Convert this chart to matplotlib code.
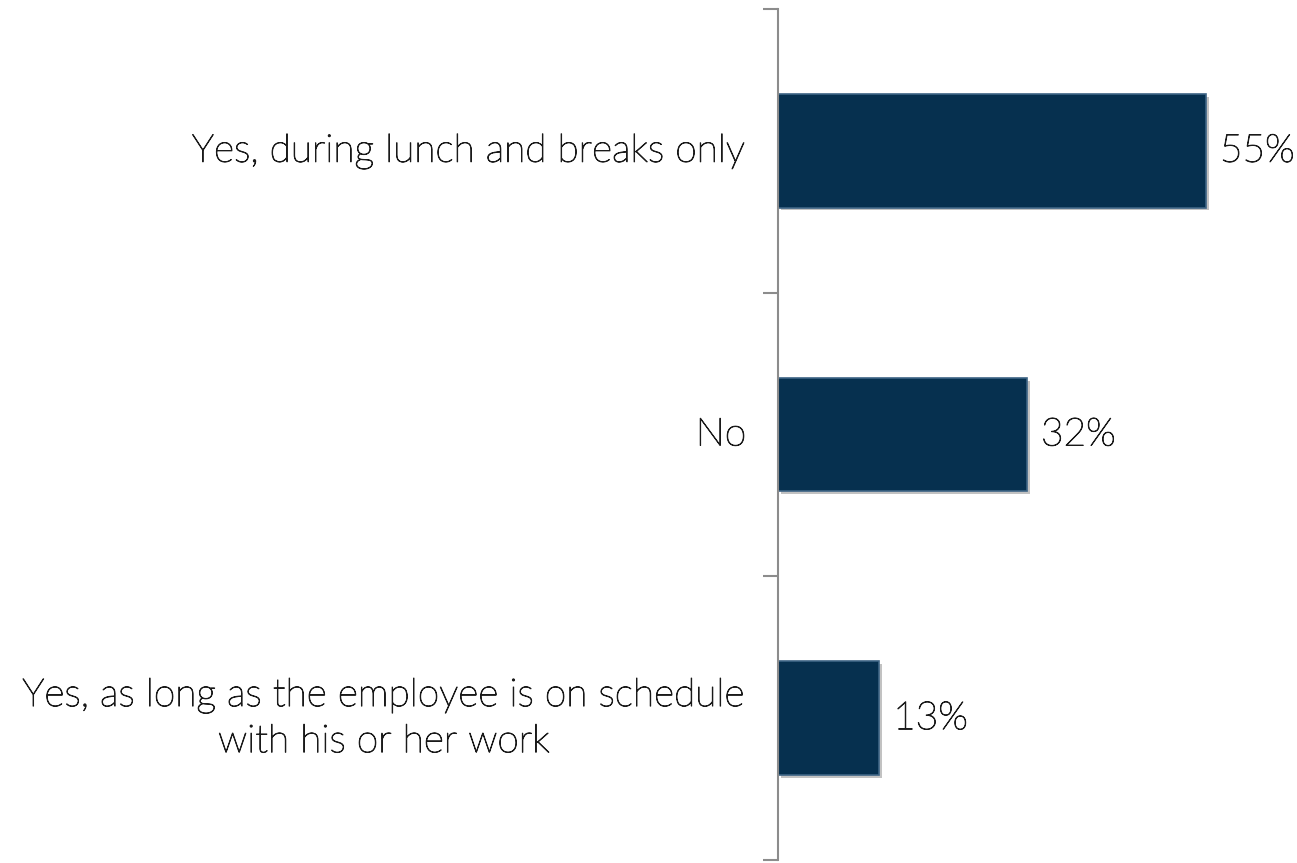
import matplotlib.pyplot as plt
import matplotlib.patheffects as pe

# Survey responses, top to bottom
categories = [
    "Yes, during lunch and breaks only",
    "No",
    "Yes, as long as the employee is on schedule\nwith his or her work",
]
values = [55, 32, 13]

plt.rcParams['font.family'] = ['Lato', 'DejaVu Sans']
text_col = '#1a1a1a'
# light face thickened a little with a thin outline
thicken = [pe.withStroke(linewidth=0.7, foreground=text_col)]

fig = plt.figure(figsize=(12.97, 8.63), dpi=100)
ax = fig.add_axes([778 / 1297, 3 / 863, 519 / 1297, 851 / 863])

pos = list(range(len(categories)))
bars = ax.barh(pos, values, height=0.4, color='#06304f',
               edgecolor='#3d6485', linewidth=1.2)
for b in bars:
    b.set_path_effects([pe.SimplePatchShadow(offset=(2, -2), shadow_rgbFace='#9a9a9a', alpha=0.6),
                        pe.Normal()])

ax.set_xlim(0, 66.7)
ax.set_ylim(2.5, -0.5)

# value labels to the right of each bar
for y, v in zip(pos, values):
    ax.text(v + 1.8, y, f"{v}%", va='center', ha='left', fontsize=28,
            fontweight='light', color=text_col, path_effects=thicken)

# category labels to the left of the axis
for y, c in zip(pos, categories):
    ax.text(-4.1, y, c, va='center', ha='right', multialignment='center',
            fontsize=28, fontweight='light', color=text_col, linespacing=1.35,
            path_effects=thicken)

# ticks sit on the category boundaries
ax.set_yticks([-0.5, 0.5, 1.5, 2.5])
ax.set_yticklabels([])
ax.tick_params(axis='y', length=11, width=1.5, color='#8c8c8c', direction='out')
ax.set_xticks([])
for s in ['top', 'right', 'bottom']:
    ax.spines[s].set_visible(False)
ax.spines['left'].set_color('#8c8c8c')
ax.spines['left'].set_linewidth(1.5)
ax.patch.set_alpha(0)

fig.savefig('out.png', dpi=100)
